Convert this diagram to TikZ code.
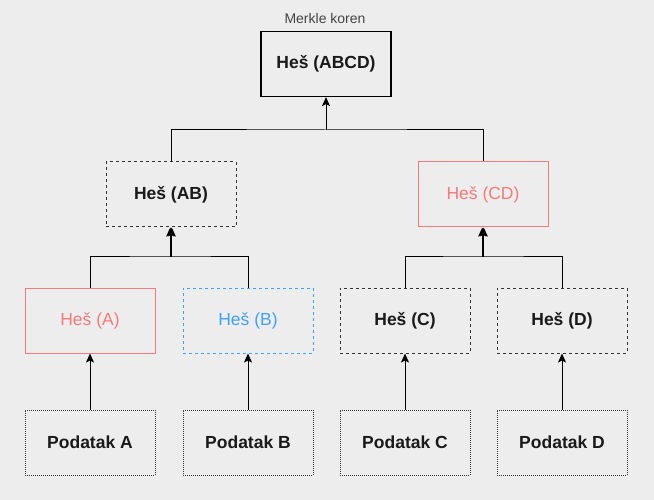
\documentclass[tikz,border=0pt]{standalone}
\usepackage{fontspec}
\setmainfont{Liberation Sans}
\usetikzlibrary{arrows.meta}
\definecolor{bg}{HTML}{EDEDED}
\definecolor{txt}{HTML}{1A1A1A}
\definecolor{lbl}{HTML}{444444}
\definecolor{redc}{HTML}{F27B7B}
\definecolor{bluec}{HTML}{3FA0FF}
\definecolor{dashc}{HTML}{333333}
\tikzset{
  box/.style={minimum width=130pt, minimum height=65pt, inner sep=0pt, text=txt, line width=1pt,
    font=\fontsize{17.5}{21}\selectfont},
  boldtxt/.style={font=\fontsize{17.5}{21}\selectfont\bfseries},
  solidbox/.style={box, draw=black, boldtxt, line width=1.2pt},
  dashbox/.style={box, draw=dashc, dash pattern=on 3pt off 3pt, boldtxt},
  redbox/.style={box, draw=redc, text=redc},
  bluebox/.style={box, draw=bluec, text=bluec, dash pattern=on 3pt off 3pt},
  dotbox/.style={box, draw=dashc, dash pattern=on 1pt off 1pt, boldtxt},
  conn/.style={draw=black, line width=1pt},
  arr/.style={conn, -{Stealth[length=9pt,width=8pt,inset=2pt]}},
}
\begin{document}
\begin{tikzpicture}[x=1pt,y=-1pt]
\fill[bg] (0,0) rectangle (654,500);
\useasboundingbox (0,0) rectangle (654,500);

\node[solidbox] (abcd) at (326,64) {Heš (ABCD)};
\node[font=\fontsize{14}{16}\selectfont, text=lbl] (root) at (325,18.5) {Merkle koren};

\node[dashbox] (ab) at (171,194.5) {Heš (AB)};
\node[redbox] (cd) at (483,194.5) {Heš (CD)};

\node[redbox] (a) at (90,320.5) {Heš (A)};
\node[bluebox] (b) at (248,320.5) {Heš (B)};
\node[dashbox] (c) at (405,320.5) {Heš (C)};
\node[dashbox] (d) at (562,320.5) {Heš (D)};

\node[dotbox] (pa) at (90,442.5) {Podatak A};
\node[dotbox] (pb) at (248,442.5) {Podatak B};
\node[dotbox] (pc) at (405,442.5) {Podatak C};
\node[dotbox] (pd) at (562,442.5) {Podatak D};

% top level
\coordinate (j1) at (326,130);
\draw[conn] (ab.north) |- (j1) -| (cd.north);
\draw[arr] (j1) -- (abcd.south);

% AB level
\coordinate (j2) at (171,257);
\draw[conn] (a.north) |- (j2) -| (b.north);
\draw[arr] ([xshift=-0.8pt]j2) -- ([xshift=-0.8pt]ab.south);
\draw[arr] ([xshift=0.8pt]j2) -- ([xshift=0.8pt]ab.south);

% CD level
\coordinate (j3) at (483,257);
\draw[conn] (c.north) |- (j3) -| (d.north);
\draw[arr] ([xshift=-0.8pt]j3) -- ([xshift=-0.8pt]cd.south);
\draw[arr] ([xshift=0.8pt]j3) -- ([xshift=0.8pt]cd.south);

% data to hashes
\draw[arr] (pa.north) -- (a.south);
\draw[arr] (pb.north) -- (b.south);
\draw[arr] (pc.north) -- (c.south);
\draw[arr] (pd.north) -- (d.south);
\end{tikzpicture}
\end{document}
